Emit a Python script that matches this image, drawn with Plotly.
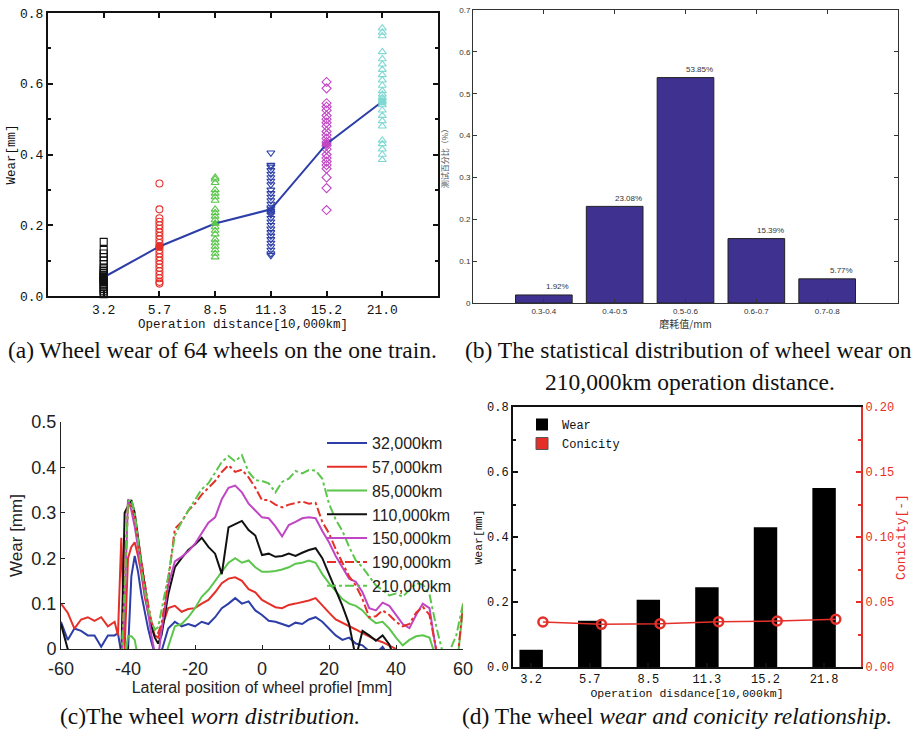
import plotly.graph_objects as go

# ---------------- DATA ----------------
# (a) wheel wear of 64 wheels at each operation distance
dist_a = ["3.2", "5.7", "8.5", "11.3", "15.2", "21.0"]
wear_32 = [0.153, 0.13, 0.12, 0.11, 0.10, 0.09, 0.08, 0.075, 0.07, 0.065, 0.06, 0.058, 0.055,
           0.052, 0.05, 0.048, 0.045, 0.042, 0.04, 0.035, 0.03, 0.025, 0.02, 0.015, 0.01, 0.005]
wear_57 = [0.318, 0.245, 0.22, 0.21, 0.20, 0.19, 0.18, 0.17, 0.16, 0.15, 0.14, 0.13, 0.12,
           0.11, 0.10, 0.09, 0.08, 0.07, 0.06, 0.05, 0.04, 0.035]
wear_85 = [0.335, 0.33, 0.32, 0.30, 0.29, 0.28, 0.27, 0.245, 0.235, 0.225, 0.215, 0.205,
           0.195, 0.185, 0.175, 0.16, 0.15, 0.14, 0.13, 0.12, 0.11]
wear_113 = [0.405, 0.37, 0.365, 0.355, 0.345, 0.335, 0.325, 0.315, 0.30, 0.29, 0.28, 0.27,
            0.26, 0.25, 0.24, 0.235, 0.23, 0.22, 0.21, 0.20, 0.19, 0.18, 0.17, 0.16, 0.15,
            0.14, 0.13, 0.12, 0.115]
wear_152 = [0.605, 0.587, 0.545, 0.535, 0.525, 0.51, 0.50, 0.49, 0.48, 0.465, 0.455, 0.445,
            0.435, 0.425, 0.415, 0.40, 0.39, 0.38, 0.37, 0.36, 0.335, 0.305, 0.243]
wear_210 = [0.757, 0.745, 0.735, 0.69, 0.67, 0.655, 0.64, 0.625, 0.61, 0.595, 0.58, 0.57,
            0.56, 0.55, 0.54, 0.525, 0.51, 0.495, 0.48, 0.44, 0.43, 0.415, 0.40, 0.385]
wear_mean = [0.053, 0.14, 0.205, 0.245, 0.43, 0.55]

# (b) distribution of wheel wear at 210,000 km
bins_b = ["0.3-0.4", "0.4-0.5", "0.5-0.6", "0.6-0.7", "0.7-0.8"]
share_b = [0.0192, 0.2308, 0.5385, 0.1539, 0.0577]

# (c) worn distribution along the wheel profile
x_pos = [-60, -58, -56, -54, -52, -50, -48, -46, -44, -43, -42, -41, -40, -39, -38, -37, -36,
         -35, -34, -33, -32, -31, -30, -28, -26, -24, -22, -20, -18, -16, -14, -12, -10, -8,
         -6, -4, -2, 0, 2, 4, 6, 8, 10, 12, 14, 16, 18, 20, 22, 24, 26, 28, 30, 32, 34, 36,
         38, 40, 42, 44, 46, 48, 50, 52, 54, 56, 58, 60]
x_ticks_c = [-60, -40, -20, 0, 20, 40, 60]
w_32k = [0.06, 0.02, 0.045, 0.04, 0.03, 0.03, 0.005, 0.03, 0.03,
         0.035, -0.01, -0.02, -0.005, 0.16, 0.205, 0.17, 0.12, 0.08, 0.045, 0.015, -0.01, -0.02, -0.005,
         0.045, 0.06, 0.05, 0.055, 0.05, 0.06, 0.055, 0.07, 0.09, 0.1, 0.112, 0.1, 0.105, 0.085, 0.075,
         0.062, 0.06, 0.055, 0.05, 0.058, 0.055, 0.065, 0.07, 0.06, 0.045, 0.03, 0.02, 0.025, 0.012,
         0.008, -0.005, -0.01, 0.005, -0.02, -0.04, -0.05, -0.05, -0.05, -0.05, -0.05, -0.05, -0.05,
         -0.05, -0.05, -0.05]
w_57k = [0.10, 0.08, 0.045, 0.065, 0.07, 0.062, 0.07, 0.05, 0.06,
         0.03, 0.245, 0.0, 0.2, 0.225, 0.235, 0.205, 0.165, 0.115, 0.08, 0.05, 0.03, 0.025, 0.045,
         0.09, 0.095, 0.082, 0.088, 0.09, 0.1, 0.108, 0.125, 0.145, 0.155, 0.158, 0.15, 0.132, 0.125,
         0.108, 0.1, 0.092, 0.09, 0.097, 0.1, 0.103, 0.107, 0.112, 0.095, 0.08, 0.065, 0.058, 0.05,
         0.043, 0.035, 0.028, 0.02, 0.015, 0.008, 0.0, -0.03, -0.05, -0.05, -0.05, -0.05, -0.05,
         -0.05, -0.05, -0.05, -0.05]
w_85k = [-0.05, -0.05, -0.05, -0.05, -0.05, -0.05, -0.05, -0.05, -0.05,
         -0.05, -0.05, -0.02, 0.028, 0.028, 0.02, -0.02, -0.05, -0.05, -0.05, -0.05, -0.05, -0.05, -0.05,
         0.005, 0.05, 0.055, 0.07, 0.09, 0.115, 0.13, 0.15, 0.17, 0.19, 0.2, 0.19, 0.195, 0.18, 0.17,
         0.17, 0.172, 0.175, 0.18, 0.188, 0.19, 0.195, 0.19, 0.165, 0.145, 0.128, 0.11, 0.1, 0.095,
         0.085, 0.068, 0.057, 0.06, 0.045, 0.025, 0.008, 0.02, 0.028, 0.03, 0.025, -0.02, -0.05,
         -0.05, -0.05, 0.09]
w_110k = [0.055, 0.0, -0.03, -0.03, -0.03, -0.03, -0.03, -0.03, -0.03,
          -0.03, -0.02, 0.3, 0.315, 0.328, 0.3, 0.24, 0.19, 0.14, 0.085, 0.05, 0.025, 0.012, 0.03,
          0.12, 0.18, 0.2, 0.218, 0.23, 0.245, 0.225, 0.21, 0.165, 0.268, 0.275, 0.282, 0.262, 0.25,
          0.207, 0.21, 0.203, 0.205, 0.21, 0.205, 0.212, 0.218, 0.222, 0.2, 0.165, 0.13, 0.095, 0.055,
          -0.02, 0.04, 0.03, 0.018, 0.03, 0.01, -0.03, -0.05, -0.05, -0.05, -0.05, -0.05, -0.05, -0.05,
          -0.05, -0.05, -0.05]
w_150k = [-0.05, -0.05, -0.05, -0.05, -0.05, -0.05, -0.05, -0.05, -0.05,
          -0.05, -0.03, 0.1, 0.33, 0.305, 0.27, 0.225, 0.18, 0.125, 0.08, 0.03, -0.01, -0.02, 0.04,
          0.14, 0.193, 0.203, 0.215, 0.232, 0.255, 0.278, 0.29, 0.33, 0.355, 0.36, 0.345, 0.32, 0.305,
          0.29, 0.288, 0.27, 0.248, 0.273, 0.28, 0.288, 0.29, 0.288, 0.26, 0.235, 0.205, 0.18, 0.155,
          0.148, 0.125, 0.09, 0.085, 0.102, 0.095, 0.075, 0.055, 0.046, 0.075, 0.1, 0.09, -0.005,
          -0.05, -0.05, -0.05, -0.05]
w_190k = [-0.05, -0.05, -0.05, -0.05, -0.05, -0.05, -0.05, -0.05, -0.05,
          -0.05, -0.03, 0.15, 0.32, 0.315, 0.29, 0.24, 0.19, 0.14, 0.1, 0.06, 0.04, 0.035, 0.055,
          0.15, 0.265, 0.28, 0.305, 0.32, 0.34, 0.355, 0.37, 0.39, 0.405, 0.39, 0.395, 0.378, 0.355,
          0.328, 0.328, 0.318, 0.312, 0.318, 0.322, 0.325, 0.32, 0.322, 0.28, 0.255, 0.22, 0.19, 0.16,
          0.14, 0.11, 0.07, 0.072, 0.085, 0.075, 0.06, 0.05, 0.055, 0.08, 0.093, 0.075, 0.0, -0.05,
          -0.05, -0.05, 0.1]
w_210k = [-0.05, -0.05, -0.05, -0.05, -0.05, -0.05, -0.05, -0.05, -0.05,
          -0.05, -0.03, 0.12, 0.325, 0.33, 0.3, 0.235, 0.18, 0.13, 0.09, 0.06, 0.043, 0.048, 0.085,
          0.16, 0.25, 0.28, 0.305, 0.33, 0.352, 0.365, 0.39, 0.412, 0.425, 0.413, 0.427, 0.39, 0.372,
          0.37, 0.365, 0.345, 0.368, 0.375, 0.392, 0.387, 0.394, 0.393, 0.375, 0.32, 0.285, 0.26, 0.225,
          0.195, 0.18, 0.16, 0.14, 0.13, 0.118, 0.122, 0.115, 0.13, 0.145, 0.142, 0.12, 0.05, -0.01,
          -0.005, 0.03, 0.1]
series_c_names = ["32,000km", "57,000km", "85,000km", "110,000km", "150,000km", "190,000km", "210,000km"]

# (d) wear and conicity
dist_d = ["3.2", "5.7", "8.5", "11.3", "15.2", "21.8"]
wear_d = [0.053, 0.142, 0.207, 0.245, 0.43, 0.551]
conicity_d = [0.0346, 0.0328, 0.0333, 0.0349, 0.0354, 0.0367]

# ---------------- STYLE ----------------
W, H = 916, 732
MONO = "Liberation Mono"
SANS = "Liberation Sans"
SERIF = "Liberation Serif"
BLACK = "#111111"
RED = "#e5302a"
GREEN = "#5cc64c"
BLUE = "#2d3ea8"
MAGENTA = "#c046c4"
CYAN = "#7fd8d2"
INDIGO = "#3f318f"


def dx(a, b):
    return [a / W, b / W]


def dy(top, bottom):
    return [1 - bottom / H, 1 - top / H]


fig = go.Figure()

# ---- panel (a) ----
groups = [(wear_32, "square-open", BLACK), (wear_57, "circle-open", RED),
          (wear_85, "triangle-up-open", GREEN), (wear_113, "triangle-down-open", BLUE),
          (wear_152, "diamond-open", MAGENTA), (wear_210, "triangle-up-open", CYAN)]
for i, (vals, sym, col) in enumerate(groups):
    fig.add_trace(go.Scatter(x=[i] * len(vals), y=vals, mode="markers",
                             marker=dict(symbol=sym, size=7, color=col, line=dict(width=1.1, color=col)),
                             xaxis="x", yaxis="y", showlegend=False, cliponaxis=False))
fig.add_trace(go.Scatter(x=list(range(len(wear_mean))), y=wear_mean, mode="lines+markers",
                         line=dict(color=BLUE, width=2),
                         marker=dict(symbol=["square", "circle", "triangle-up", "triangle-down", "diamond", "square"],
                                     size=8, color=[BLACK, RED, GREEN, BLUE, MAGENTA, CYAN]),
                         xaxis="x", yaxis="y", showlegend=False))

# ---- panel (b) ----
fig.add_trace(go.Bar(x=list(range(len(share_b))), y=share_b, width=0.8,
                     marker=dict(color=INDIGO, line=dict(color="#222222", width=1)),
                     xaxis="x2", yaxis="y2", showlegend=False))

# ---- panel (c) ----
series_c = [w_32k, w_57k, w_85k, w_110k, w_150k, w_190k, w_210k]
colors_c = [BLUE, RED, GREEN, BLACK, MAGENTA, RED, GREEN]
dashes_c = ["solid", "solid", "solid", "solid", "solid", "dashdot", "dashdot"]
for name, vals, col, dash in zip(series_c_names, series_c, colors_c, dashes_c):
    fig.add_trace(go.Scatter(x=x_pos, y=vals, mode="lines", name=name,
                             line=dict(color=col, width=2, dash=dash),
                             xaxis="x3", yaxis="y3", legend="legend"))

# ---- panel (d) ----
fig.add_trace(go.Bar(x=list(range(len(wear_d))), y=wear_d, width=0.4, name="Wear",
                     marker=dict(color="#000000", line=dict(width=0)),
                     xaxis="x4", yaxis="y4", legend="legend2"))
fig.add_trace(go.Bar(x=[None], y=[None], name="Conicity",
                     marker=dict(color=RED, line=dict(color="#555555", width=1)),
                     xaxis="x4", yaxis="y4", legend="legend2"))
fig.add_trace(go.Scatter(x=[i + 0.2 for i in range(len(conicity_d))], y=conicity_d, mode="lines+markers",
                         line=dict(color=RED, width=1.5),
                         marker=dict(symbol="circle-open", size=9, color=RED, line=dict(width=2.5, color=RED)),
                         xaxis="x4", yaxis="y5", showlegend=False))

# bar value labels (b)
annotations = []
for i, v in enumerate(share_b):
    annotations.append(dict(x=i, y=v, xref="x2", yref="y2", text=f"{v * 100:.2f}%", showarrow=False,
                            xshift=14, yshift=8, font=dict(family=SANS, size=8, color="#333333")))

# captions
cap_font = dict(family=SERIF, size=23.5, color="#111111")
captions = [
    ("(a) Wheel wear of 64 wheels on the one train.", 6, 350, "left"),
    ("(b) The statistical distribution of wheel wear on", 463, 350, "left"),
    ("210,000km operation distance.", 690, 382, "center"),
    ("(c)The wheel <i>worn distribution.</i>", 210, 716, "center"),
    ("(d) The wheel <i>wear and conicity relationship.</i>", 677, 716, "center"),
]
for txt, cx, cy, anc in captions:
    annotations.append(dict(x=cx / W, y=1 - cy / H, xref="paper", yref="paper", text=txt,
                            showarrow=False, xanchor=anc, yanchor="middle", font=cap_font))

ax_common = dict(showgrid=False, zeroline=False, automargin=False, showline=True)

fig.update_layout(
    width=W, height=H, margin=dict(l=0, r=0, t=0, b=0),
    paper_bgcolor="white", plot_bgcolor="white",
    annotations=annotations,
    # (a)
    xaxis=dict(**ax_common, domain=dx(48, 438), range=[-1, 6], anchor="y",
               tickvals=list(range(len(dist_a))), ticktext=dist_a,
               ticks="inside", ticklen=5, tickwidth=1.5, linewidth=2, linecolor=BLACK, tickcolor=BLACK,
               mirror="ticks", tickfont=dict(family=MONO, size=13, color=BLACK),
               title=dict(text="Operation distance[10,000km]", font=dict(family=MONO, size=12.5, color=BLACK),
                          standoff=2)),
    yaxis=dict(**ax_common, domain=dy(13, 296), range=[0, 0.8], anchor="x", dtick=0.2, tickformat=".1f",
               ticks="inside", ticklen=5, tickwidth=1.5, linewidth=2, linecolor=BLACK, tickcolor=BLACK,
               mirror="ticks", minor=dict(dtick=0.1, ticks="inside", ticklen=3, tickwidth=1.5, tickcolor=BLACK),
               tickfont=dict(family=MONO, size=13, color=BLACK),
               title=dict(text="Wear[mm]", font=dict(family=MONO, size=12.5, color=BLACK), standoff=2)),
    # (b)
    xaxis2=dict(**ax_common, domain=dx(473, 898), range=[-1, 5], anchor="y2",
                tickvals=list(range(len(bins_b))), ticktext=bins_b,
                ticks="inside", ticklen=4, tickwidth=1, linewidth=1, linecolor="#333333", tickcolor="#333333",
                mirror="ticks", tickfont=dict(family=SANS, size=8, color="#333333"),
                title=dict(text="磨耗值/mm", font=dict(family="Noto Sans CJK SC", size=10, color="#333333"),
                           standoff=2)),
    yaxis2=dict(**ax_common, domain=dy(10, 303), range=[0, 0.7], anchor="x2", dtick=0.1,
                ticks="inside", ticklen=4, tickwidth=1, linewidth=1, linecolor="#333333", tickcolor="#333333",
                mirror="ticks", tickfont=dict(family=SANS, size=8, color="#333333"),
                title=dict(text="测试百分比（%）", font=dict(family="Noto Sans CJK SC", size=8, color="#555555"),
                           standoff=9)),
    # (c)
    xaxis3=dict(**ax_common, domain=dx(61, 463), range=[-60, 60], anchor="y3",
                tickvals=x_ticks_c, ticktext=[str(v) for v in x_ticks_c], ticklabelstandoff=3,
                ticks="inside", ticklen=4, tickwidth=1, linewidth=1, linecolor="#222222", tickcolor="#222222",
                tickfont=dict(family=SANS, size=18, color="#222222"),
                title=dict(text="Lateral position of wheel profiel [mm]",
                           font=dict(family=SANS, size=16, color="#222222"), standoff=2)),
    yaxis3=dict(**ax_common, domain=dy(422, 649), range=[0, 0.5], anchor="x3", dtick=0.1,
                ticks="inside", ticklen=4, tickwidth=1, linewidth=1, linecolor="#222222", tickcolor="#222222",
                tickfont=dict(family=SANS, size=18, color="#222222"),
                title=dict(text="Wear [mm]", font=dict(family=SANS, size=17, color="#222222"), standoff=4)),
    # (d)
    xaxis4=dict(**ax_common, domain=dx(513, 861), range=[-0.31, 5.63], anchor="y4",
                tickvals=list(range(len(dist_d))), ticktext=dist_d,
                ticks="inside", ticklen=4, tickwidth=1.5, linewidth=2, linecolor=BLACK, tickcolor=BLACK,
                mirror=True, tickfont=dict(family=MONO, size=12, color=BLACK),
                title=dict(text="Operation disdance[10,000km]", font=dict(family=MONO, size=11.5, color=BLACK),
                           standoff=2)),
    yaxis4=dict(**ax_common, domain=dy(407, 667), range=[0, 0.8], anchor="x4", dtick=0.2, tickformat=".1f",
                ticks="inside", ticklen=5, tickwidth=1.5, linewidth=2, linecolor=BLACK, tickcolor=BLACK,
                minor=dict(dtick=0.1, ticks="inside", ticklen=3, tickwidth=1.5, tickcolor=BLACK),
                tickfont=dict(family=MONO, size=12, color=BLACK),
                title=dict(text="Wear[mm]", font=dict(family=MONO, size=11.5, color=BLACK), standoff=2)),
    yaxis5=dict(**ax_common, overlaying="y4", side="right", anchor="x4", range=[0, 0.2], dtick=0.05,
                tickformat=".2f", ticks="inside", ticklen=5, tickwidth=1.5, linewidth=2, linecolor=RED,
                tickcolor=RED, minor=dict(dtick=0.025, ticks="inside", ticklen=3, tickwidth=1.5, tickcolor=RED),
                tickfont=dict(family=MONO, size=12, color=RED),
                title=dict(text="Conicity[-]", font=dict(family=MONO, size=13, color=RED), standoff=2)),
    legend=dict(x=322 / W, y=1 - 426 / H, xanchor="left", yanchor="top", bgcolor="rgba(0,0,0,0)",
                font=dict(family=SANS, size=16, color="#222222"), tracegroupgap=0, itemwidth=40),
    legend2=dict(x=522 / W, y=1 - 410 / H, xanchor="left", yanchor="top", bgcolor="rgba(0,0,0,0)",
                 font=dict(family=MONO, size=12, color=BLACK), tracegroupgap=0),
    barmode="overlay",
)

fig.write_html("out.html", config={"displayModeBar": False},
               post_script="document.body.style.margin='0';document.body.style.padding='0';")
